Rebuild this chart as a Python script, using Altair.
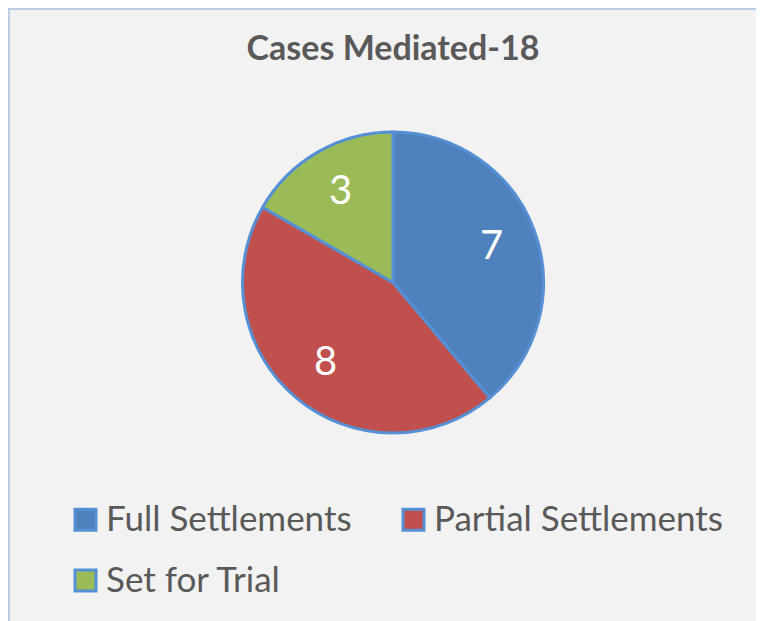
import altair as alt
import pandas as pd

categories = ["Full Settlements", "Partial Settlements", "Set for Trial"]
values = [7, 8, 3]
colors = ["#4f81bd", "#c0504d", "#9bbb59"]

df = pd.DataFrame({"category": categories, "value": values,
                   "idx": list(range(len(categories)))})

base = alt.Chart(df).encode(
    theta=alt.Theta("value:Q", stack=True),
    order=alt.Order("idx:O"),
    x=alt.value(385),
    y=alt.value(274.5),
)

pie = base.mark_arc(outerRadius=150.5, stroke="#5590d5", strokeWidth=3).encode(
    color=alt.Color(
        "category:N",
        scale=alt.Scale(domain=categories, range=colors),
        legend=alt.Legend(
            title=None, orient="none", legendX=60, legendY=494, columns=2,
            direction="horizontal",
            labelFont="Lato", labelFontSize=35, labelColor="#595959",
            labelLimit=500, labelOffset=3,
            symbolType="square", symbolSize=441,
            symbolStrokeColor="#5590d5", symbolStrokeWidth=3,
            columnPadding=44, rowPadding=25, padding=0,
        ),
    )
)

labels = base.mark_text(radius=105, fontSize=40, font="Lato", color="white").encode(
    text="value:Q"
)

frame_df = pd.DataFrame({"k": [0]})
left_edge = alt.Chart(frame_df).mark_rule(color="#b9cde5", strokeWidth=4).encode(
    x=alt.value(0), y=alt.value(0), y2=alt.value(613)
)
top_edge = alt.Chart(frame_df).mark_rule(color="#b9cde5", strokeWidth=4).encode(
    x=alt.value(0), x2=alt.value(748), y=alt.value(0)
)

chart = alt.layer(pie, labels, left_edge, top_edge).properties(
    width=748, height=613,
    title=alt.Title("Cases Mediated-18", font="Lato", fontSize=34, fontWeight="bold",
                    color="#595959", anchor="middle", baseline="alphabetic",
                    offset=-52, dx=11, dy=36),
    autosize=alt.AutoSizeParams(type="none"),
    padding=0,
    background="#f2f2f2",
).configure_view(stroke=None, fill="#f2f2f2")

chart.save("out.html", embed_options={"renderer": "svg", "actions": False})
